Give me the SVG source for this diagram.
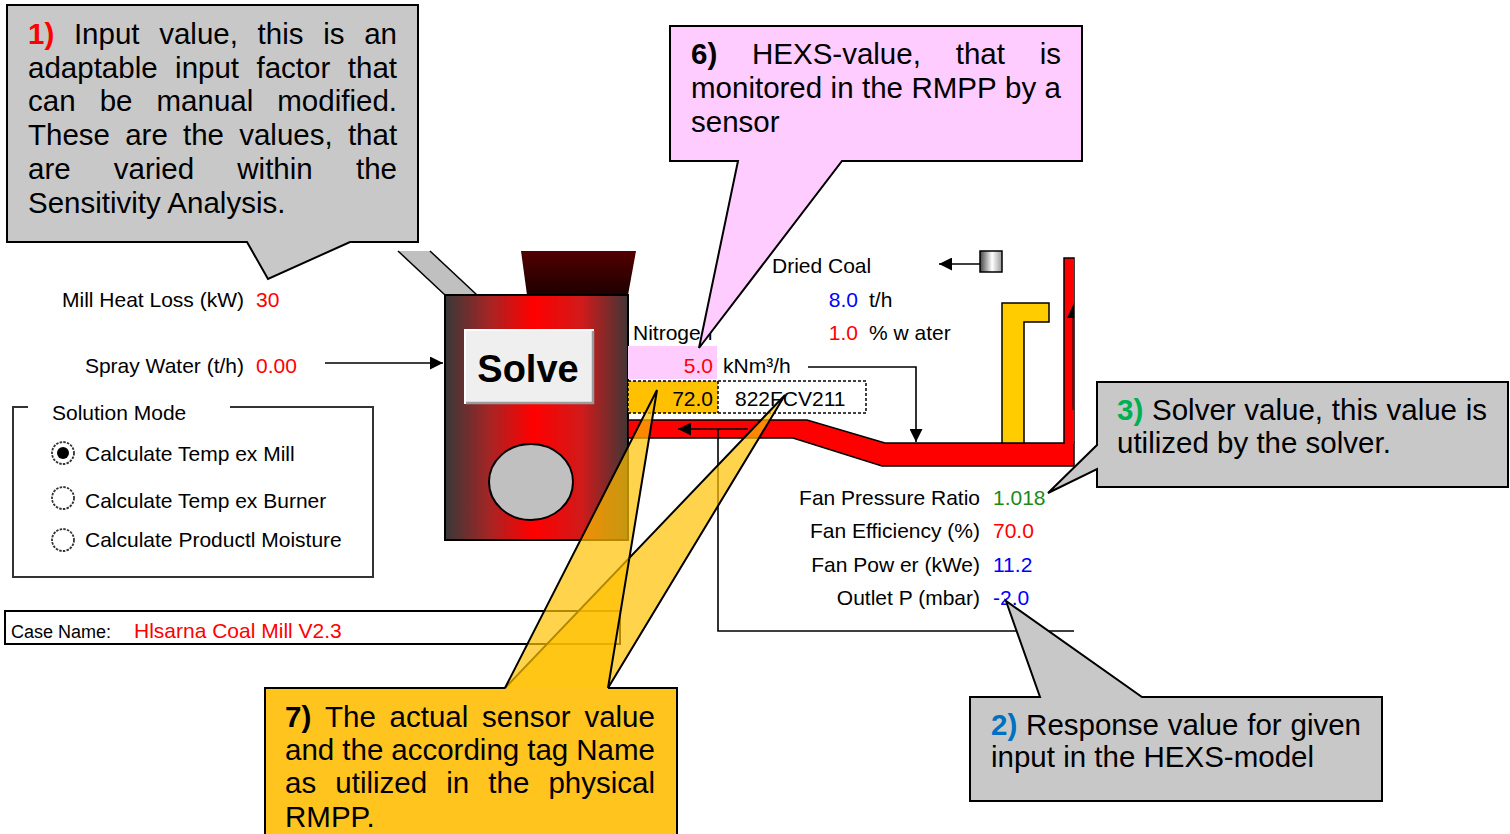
<svg xmlns="http://www.w3.org/2000/svg" width="1510" height="834" viewBox="0 0 1510 834">
  <style>
    text { font-family: "Liberation Sans", Arial, sans-serif; fill: #000; }
    .lbl { font-size: 21px; }
    .big { font-size: 29.5px; }
    .b { font-weight: bold; }
    .red { fill: #ff0000; }
    .blue { fill: #0000ff; }
    .green { fill: #1a8a1a; }
    .line { stroke: #000; stroke-width: 1.6; fill: none; }
    .callout { stroke: #000; stroke-width: 2; }
    .grey { fill: #c8c8c8; }
    .radio { fill: #fff; stroke: #333; stroke-width: 1.8; stroke-dasharray: 2.5 1.2; }
  </style>
  <defs>
    <marker id="arr" viewBox="0 0 10 10" refX="10" refY="5" markerUnits="userSpaceOnUse" markerWidth="15" markerHeight="13" orient="auto">
      <path d="M0,0 L10,5 L0,10 z" fill="#000"/>
    </marker>
    <linearGradient id="millBody" x1="0" y1="0" x2="1" y2="0">
      <stop offset="0" stop-color="#383838"/>
      <stop offset="0.25" stop-color="#a82424"/>
      <stop offset="0.48" stop-color="#ff0000"/>
      <stop offset="0.75" stop-color="#d01a1a"/>
      <stop offset="1" stop-color="#403636"/>
    </linearGradient>
    <linearGradient id="hopper" x1="0" y1="0" x2="0" y2="1">
      <stop offset="0" stop-color="#520000"/>
      <stop offset="1" stop-color="#1e0000"/>
    </linearGradient>
    <linearGradient id="feeder" x1="0" y1="0" x2="1" y2="0">
      <stop offset="0" stop-color="#444"/>
      <stop offset="0.55" stop-color="#fff"/>
      <stop offset="1" stop-color="#999"/>
    </linearGradient>
  </defs>

  <!-- mill with feed chute, hopper and solve button -->
  <g id="mill">
    <polygon points="398,251 430,251 477,295 445,295" fill="#c0c0c0"/>
    <line x1="398" y1="251" x2="445" y2="295" stroke="#000" stroke-width="1.5"/>
    <line x1="430" y1="251" x2="477" y2="295" stroke="#000" stroke-width="1.5"/>
    <polygon points="521,251 636,251 628,295 527,295" fill="url(#hopper)"/>
    <rect x="445" y="295" width="183" height="245" fill="url(#millBody)" stroke="#000" stroke-width="2"/>
    <ellipse cx="531" cy="482" rx="42" ry="38" fill="#c0c0c0" stroke="#000" stroke-width="2"/>
  </g>
  <g id="solve-button">
    <rect x="465" y="330" width="129" height="74" fill="#efefef"/>
    <path d="M465,404 V330 H594" stroke="#fff" stroke-width="2" fill="none"/>
    <path d="M466,403 H593 V331" stroke="#9a9a9a" stroke-width="2.5" fill="none"/>
    <text x="528" y="382" font-size="38" font-weight="bold" text-anchor="middle">Solve</text>
  </g>

  <!-- ducting -->
  <g id="duct">
    <polygon points="628,420 807,420 885,443 1074,443 1074,466 882,466 793,438 628,438" fill="#ff0000" stroke="#000" stroke-width="1.5"/>
    <path d="M1074,443 V258 H1064 V443" fill="#ff0000" stroke="#000" stroke-width="1.5"/>
    <rect x="1065" y="259" width="9" height="185" fill="#ff0000"/>
    <polygon points="1067,318 1074,303 1074,318" fill="#000"/>
    <line x1="1073" y1="318" x2="1073" y2="410" stroke="#000" stroke-width="1"/>
    <polygon points="1002,443 1002,303 1049,303 1049,322 1024,322 1024,443" fill="#ffcc00" stroke="#000" stroke-width="1.5"/>
    <rect x="980" y="251" width="22" height="21" fill="url(#feeder)" stroke="#000" stroke-width="1.5"/>
  </g>

  <!-- process values -->
  <g id="inputs">
    <text class="lbl" x="244" y="307" text-anchor="end">Mill Heat Loss (kW)</text>
    <text class="lbl red" x="256" y="307">30</text>
    <text class="lbl" x="244" y="373" text-anchor="end">Spray Water (t/h)</text>
    <text class="lbl red" x="256" y="373">0.00</text>
  </g>
  <g id="dried-coal">
    <text class="lbl" x="772" y="273">Dried Coal</text>
    <text class="lbl blue" x="858" y="307" text-anchor="end">8.0</text>
    <text class="lbl" x="869" y="307">t/h</text>
    <text class="lbl red" x="858" y="340" text-anchor="end">1.0</text>
    <text class="lbl" x="869" y="340">% w ater</text>
  </g>
  <g id="nitrogen">
    <text class="lbl" x="633" y="340">Nitrogen</text>
    <rect x="628" y="346" width="89" height="33" fill="#ffccff"/>
    <text class="lbl red" x="713" y="373" text-anchor="end">5.0</text>
    <text class="lbl" x="723" y="373">kNm³/h</text>
  </g>
  <g id="sensor">
    <rect x="628" y="381" width="90" height="32" fill="#ffc000"/>
    <rect x="628" y="381" width="238" height="32" fill="none" stroke="#000" stroke-width="1.5" stroke-dasharray="3 2"/>
    <line x1="718" y1="381" x2="718" y2="413" stroke="#000" stroke-width="1.5" stroke-dasharray="3 2"/>
    <text class="lbl" x="713" y="406" text-anchor="end">72.0</text>
    <text class="lbl" x="735" y="406">822FCV211</text>
  </g>
  <g id="fan">
    <text class="lbl" x="980" y="505" text-anchor="end">Fan Pressure Ratio</text>
    <text class="lbl green" x="993" y="505">1.018</text>
    <text class="lbl" x="980" y="538" text-anchor="end">Fan Efficiency (%)</text>
    <text class="lbl red" x="993" y="538">70.0</text>
    <text class="lbl" x="980" y="572" text-anchor="end">Fan Pow er (kWe)</text>
    <text class="lbl blue" x="993" y="572">11.2</text>
    <text class="lbl" x="980" y="605" text-anchor="end">Outlet P (mbar)</text>
    <text class="lbl blue" x="993" y="605">-2.0</text>
  </g>

  <g id="solution-mode">
    <path d="M28,407 H13 V577 H373 V407 H230" fill="none" stroke="#333" stroke-width="2"/>
    <text class="lbl" x="52" y="420">Solution Mode</text>
    <circle class="radio" cx="63" cy="453" r="11"/>
    <circle cx="63" cy="453" r="6" fill="#000"/>
    <text class="lbl" x="85" y="461">Calculate Temp ex Mill</text>
    <circle class="radio" cx="63" cy="498" r="11"/>
    <text class="lbl" x="85" y="508">Calculate Temp ex Burner</text>
    <circle class="radio" cx="63" cy="540" r="11"/>
    <text class="lbl" x="85" y="547">Calculate Productl Moisture</text>
  </g>

  <g id="case-name">
    <rect x="5" y="611" width="615" height="33" fill="none" stroke="#000" stroke-width="2"/>
    <text x="11" y="638" font-size="18">Case Name:</text>
    <text class="lbl red" x="134" y="638">Hlsarna Coal Mill V2.3</text>
  </g>

  <!-- connectors -->
  <g id="connectors">
    <line class="line" x1="325" y1="363" x2="443" y2="363" marker-end="url(#arr)"/>
    <line class="line" x1="980" y1="264" x2="939" y2="264" marker-end="url(#arr)"/>
    <polyline class="line" points="808,367 916,367 916,442" marker-end="url(#arr)"/>
    <line class="line" x1="748" y1="429" x2="678" y2="429" marker-end="url(#arr)"/>
    <polyline class="line" points="718,429 718,631 1074,631"/>
  </g>

  <!-- annotation callouts -->
  <g id="callout-1">
    <path class="callout grey" d="M7,5 H418 V242 H350 L268,279 L247,242 H7 Z"/>
    <text class="big" y="44"><tspan x="28" class="b red">1)</tspan><tspan x="73.9">Input</tspan><tspan x="159.2">value,</tspan><tspan x="257.6">this</tspan><tspan x="323.2">is</tspan><tspan x="364.2">an</tspan></text>
    <text class="big" y="77.7"><tspan x="28">adaptable</tspan><tspan x="175.1">input</tspan><tspan x="256.5">factor</tspan><tspan x="347.8">that</tspan></text>
    <text class="big" y="111.4"><tspan x="28">can</tspan><tspan x="99.7">be</tspan><tspan x="156.5">manual</tspan><tspan x="277.3">modified.</tspan></text>
    <text class="big" y="145.1"><tspan x="28">These</tspan><tspan x="125.2">are</tspan><tspan x="183">the</tspan><tspan x="239.2">values,</tspan><tspan x="347.9">that</tspan></text>
    <text class="big" y="178.8"><tspan x="28">are</tspan><tspan x="113.8">varied</tspan><tspan x="237.3">within</tspan><tspan x="356">the</tspan></text>
    <text class="big" x="28" y="212.5">Sensitivity Analysis.</text>
  </g>

  <g id="callout-6">
    <path class="callout" fill="#ffccff" d="M670,26 H1082 V161 H842 L699,348 L738,161 H670 Z"/>
    <text class="big" y="64"><tspan x="691" class="b">6)</tspan><tspan x="752">HEXS-value,</tspan><tspan x="955.7">that</tspan><tspan x="1039.7">is</tspan></text>
    <text class="big" y="98"><tspan x="691">monitored</tspan><tspan x="830.6">in</tspan><tspan x="862">the</tspan><tspan x="911.4">RMPP</tspan><tspan x="1005">by</tspan><tspan x="1044.6">a</tspan></text>
    <text class="big" x="691" y="132">sensor</text>
  </g>

  <g id="callout-3">
    <path class="callout grey" d="M1097,382 H1508 V487 H1097 V469 L1048,493 L1097,445 Z"/>
    <text class="big" y="420"><tspan x="1117" class="b" fill="#00b050">3)</tspan><tspan x="1152">Solver</tspan><tspan x="1244.3">value,</tspan><tspan x="1331.8">this</tspan><tspan x="1386.5">value</tspan><tspan x="1465.7">is</tspan></text>
    <text class="big" x="1117" y="453">utilized by the solver.</text>
  </g>

  <g id="callout-2">
    <path class="callout grey" d="M970,697 H1040 L1006,601 L1142,697 H1382 V801 H970 Z"/>
    <text class="big" y="735"><tspan x="991" class="b" fill="#0070c0">2)</tspan><tspan x="1026.1">Response</tspan><tspan x="1167.8">value</tspan><tspan x="1247.2">for</tspan><tspan x="1290.5">given</tspan></text>
    <text class="big" x="991" y="767">input in the HEXS-model</text>
  </g>

  <g id="callout-7">
    <rect x="265" y="688" width="412" height="160" fill="#ffc41e"/>
    <path d="M505,688 H265 V848 M608,688 H677 V848" fill="none" stroke="#000" stroke-width="2"/>
    <path d="M505,688 L785,395 L608,688" fill="#ffc000" fill-opacity="0.7" stroke="#000" stroke-width="2"/>
    <path d="M505,688 L657,390 L608,688" fill="#ffc000" fill-opacity="0.7" stroke="#000" stroke-width="2"/>
    <text class="big" y="727"><tspan x="285" class="b">7)</tspan><tspan x="325">The</tspan><tspan x="389.6">actual</tspan><tspan x="482.1">sensor</tspan><tspan x="584.4">value</tspan></text>
    <text class="big" y="760"><tspan x="285">and</tspan><tspan x="342.3">the</tspan><tspan x="391.3">according</tspan><tspan x="527.2">tag</tspan><tspan x="576.3">Name</tspan></text>
    <text class="big" y="793"><tspan x="285">as</tspan><tspan x="335.3">utilized</tspan><tspan x="446.2">in</tspan><tspan x="488.3">the</tspan><tspan x="548.4">physical</tspan></text>
    <text class="big" x="285" y="827">RMPP.</text>
  </g>
</svg>
